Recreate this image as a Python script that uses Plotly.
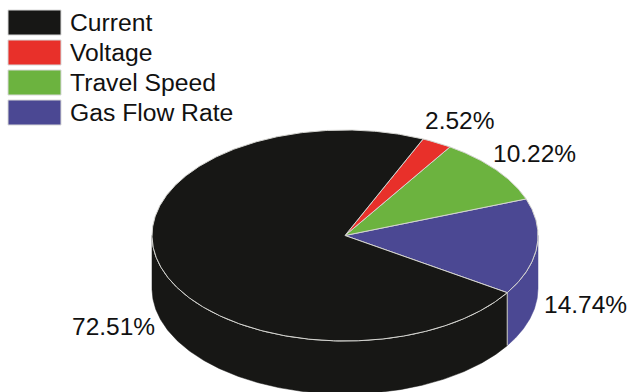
import numpy as np
import plotly.graph_objects as go

# Share of each welding parameter, in percent
categories = ["Current", "Voltage", "Travel Speed", "Gas Flow Rate"]
shares = [72.51, 2.52, 10.22, 14.74]
share_labels = ["72.51%", "2.52%", "10.22%", "14.74%"]
colors = ["#171715", "#e8302a", "#6cb33f", "#4b4893"]

# Disc geometry in page pixels
CX, CY, RX, RY, DEPTH = 345, 235.5, 193, 105.5, 53
START_DEG = -32.8  # angle where the Gas Flow Rate slice begins
EDGE = "#d4d4d0"
FONT = "Liberation Sans, Arial, sans-serif"
TEXT = "#111111"


def arc(t0, t1, dy=0.0):
    t = np.radians(np.linspace(t0, t1, max(int(abs(t1 - t0) * 2), 2)))
    return CX + RX * np.cos(t), CY - RY * np.sin(t) + dy


def add_poly(fig, x, y, color, line=EDGE, width=1.0):
    fig.add_trace(go.Scatter(
        x=x, y=y, mode="lines", fill="toself", fillcolor=color,
        line=dict(color=line, width=width), hoverinfo="skip", showlegend=False,
    ))


# Slices run counter-clockwise: Gas Flow Rate, Travel Speed, Voltage, Current
order = [3, 2, 1, 0]
angles = {}
a = START_DEG
for i in order:
    span = shares[i] / sum(shares) * 360
    angles[i] = (a, a + span)
    a += span

fig = go.Figure()

# Outer wall: only the part of each slice that faces the viewer
for i in order:
    t0, t1 = angles[i]
    ranges = [(max(t0, -180), min(t1, 0)), (max(t0, 180), min(t1, 360))]
    for lo, hi in ranges:
        if hi <= lo:
            continue
        xt, yt = arc(lo, hi)
        xb, yb = arc(hi, lo, DEPTH)
        add_poly(fig, np.r_[xt, xb, xt[0]], np.r_[yt, yb, yt[0]], colors[i], line=colors[i], width=0.5)

# Thin highlights along the rim and the slice joint on the wall
xr, yr = arc(START_DEG, 0)
fig.add_trace(go.Scatter(x=xr, y=yr, mode="lines", line=dict(color=EDGE, width=1), hoverinfo="skip", showlegend=False))
xr, yr = arc(180, 360 + START_DEG)
fig.add_trace(go.Scatter(x=xr, y=yr, mode="lines", line=dict(color=EDGE, width=1), hoverinfo="skip", showlegend=False))
xj, yj = arc(START_DEG, START_DEG)
fig.add_trace(go.Scatter(x=[xj[0], xj[0]], y=[yj[0], yj[0] + DEPTH], mode="lines",
                         line=dict(color=EDGE, width=1), hoverinfo="skip", showlegend=False))

# Top face
for i in order:
    t0, t1 = angles[i]
    xa, ya = arc(t0, t1)
    add_poly(fig, np.r_[CX, xa, CX], np.r_[CY, ya, CY], colors[i])

# Legend swatches and names
swatch_top = [10, 40, 70, 100]
for name, color, top in zip(categories, colors, swatch_top):
    fig.add_shape(type="rect", x0=8, x1=61, y0=top, y1=top + 25, fillcolor=color,
                  line=dict(color="#d8d8d8", width=1), layer="above")
    fig.add_annotation(x=68, y=top + 12.5, text=name, showarrow=False, xanchor="left", yanchor="middle",
                       font=dict(family=FONT, size=24.7, color=TEXT))

# Percentage labels beside their slices
label_pos = [(113, 326), (459, 120), (534, 153), (585, 304)]
for text, (lx, ly) in zip(share_labels, label_pos):
    fig.add_annotation(x=lx, y=ly, text=text, showarrow=False, xanchor="center", yanchor="middle",
                       font=dict(family=FONT, size=24.5, color=TEXT))

fig.update_xaxes(range=[0, 627], visible=False, fixedrange=True)
fig.update_yaxes(range=[392, 0], visible=False, fixedrange=True)
fig.update_layout(width=627, height=392, margin=dict(l=0, r=0, t=0, b=0),
                  paper_bgcolor="white", plot_bgcolor="white", showlegend=False)
fig.write_html("out.html", config={"displayModeBar": False})
